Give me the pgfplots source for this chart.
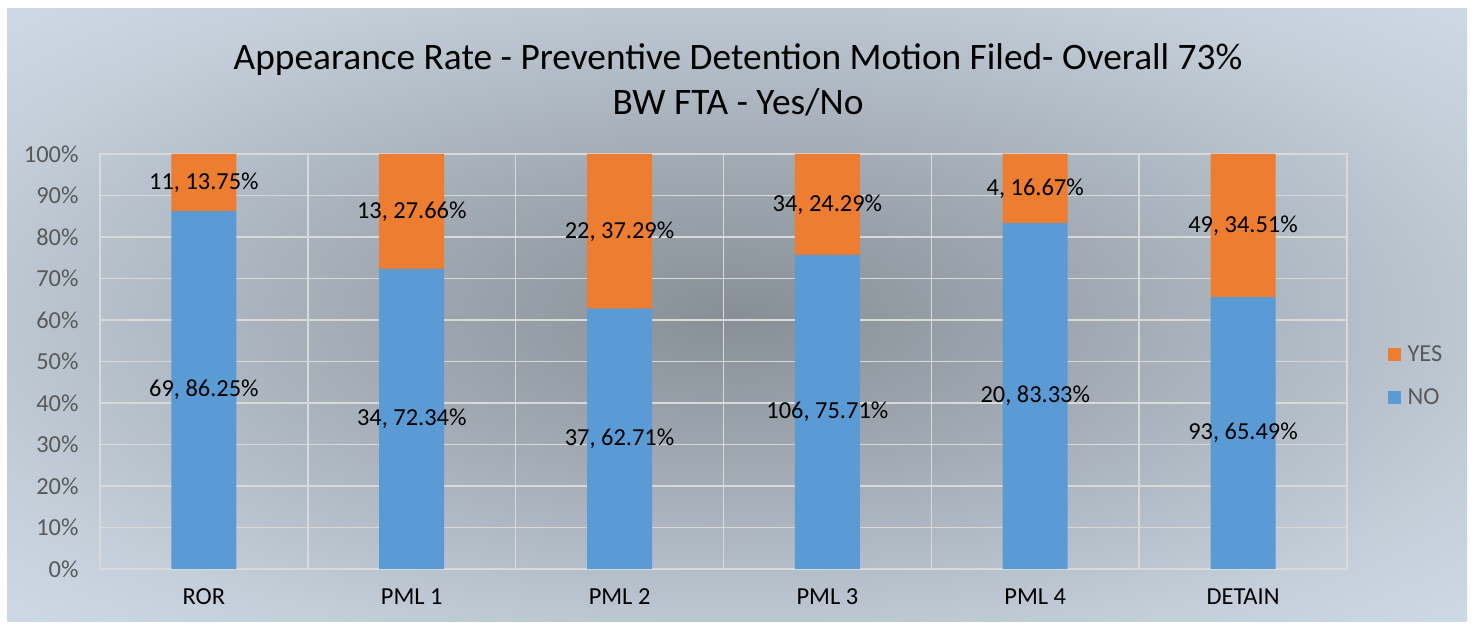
\documentclass[border=0pt]{standalone}
\usepackage{fontspec}
\setmainfont{Carlito}
\usepackage{pgfplots}
\pgfplotsset{compat=1.18}
\definecolor{cNo}{HTML}{5B9BD5}
\definecolor{cYes}{HTML}{ED7D31}
\definecolor{cGrid}{HTML}{D9D9D9}
\definecolor{cTick}{HTML}{595959}
\definecolor{bg0}{HTML}{878E96}
\definecolor{bg1}{HTML}{A0A9B2}
\definecolor{bg2}{HTML}{C3CED9}
\definecolor{bg3}{HTML}{D5E3F0}
\definecolor{bg4}{HTML}{DEEBF8}
\pgfdeclareradialshading{bgshade}{\pgfpoint{0bp}{0bp}}{color(0bp)=(bg0); color(12bp)=(bg1); color(28bp)=(bg2); color(42bp)=(bg3); color(72bp)=(bg4)}
\begin{document}
\begin{tikzpicture}[x=1bp,y=1bp]
\useasboundingbox (0,0) rectangle (1473,625);
\fill[white] (0,0) rectangle (1473,625);
\shade[shading=bgshade] (7,3) rectangle (1467,616);
\node[align=center, font=\fontsize{37.5}{45}\selectfont, text=black] at (738,545) {Appearance Rate - Preventive Detention Motion Filed- Overall 73\%\\BW FTA - Yes/No};
\begin{axis}[
  at={(100bp,56bp)}, anchor=south west,
  scale only axis, width=1247bp, height=415bp,
  ybar stacked, bar width=65bp,
  xmin=-0.5, xmax=5.5, ymin=0, ymax=100,
  xtick={0,1,2,3,4,5},
  xticklabels={ROR,PML 1,PML 2,PML 3,PML 4,DETAIN},
  minor xtick={0.5,1.5,2.5,3.5,4.5},
  ytick={0,10,...,100},
  yticklabel={\pgfmathprintnumber{\tick}\%},
  /pgf/number format/assume math mode=true,
  ymajorgrids, xminorgrids,
  grid style={cGrid, line width=1.5bp},
  minor grid style={cGrid, line width=1.5bp},
  axis line style={cGrid, line width=1.5bp},
  major tick length=0pt, minor tick length=0pt,
  xticklabel style={font=\fontsize{24.5}{28}\selectfont, text=black, yshift=-16bp},
  yticklabel style={font=\fontsize{24.5}{28}\selectfont, text=cTick, xshift=-18bp},
  reverse legend,
  legend style={draw=none, fill=none, at={(1.03,0.465)}, anchor=west,
    font=\fontsize{24.5}{28}\selectfont, text=cTick, row sep=22bp},
  legend cell align=left,
  legend image code/.code={\fill[#1] (0bp,-6.5bp) rectangle (13bp,6.5bp);},
]
\addplot[fill=cNo, draw=none] coordinates {(0,86.25) (1,72.34) (2,62.71) (3,75.71) (4,83.33) (5,65.49)};
\addlegendentry{\hspace{5bp}NO}
\addplot[fill=cYes, draw=none] coordinates {(0,13.75) (1,27.66) (2,37.29) (3,24.29) (4,16.67) (5,34.51)};
\addlegendentry{\hspace{5bp}YES}
\end{axis}
\begin{axis}[
  at={(100bp,56bp)}, anchor=south west,
  scale only axis, width=1247bp, height=415bp,
  xmin=-0.5, xmax=5.5, ymin=0, ymax=100, hide axis,
]
\addplot[draw=none, mark=none, nodes near coords, point meta=explicit symbolic,
  every node near coord/.style={anchor=center, font=\fontsize{24.5}{28}\selectfont, text=black}]
  coordinates {
  (0,43.125) [69, 86.25\%]
  (1,36.17) [34, 72.34\%]
  (2,31.355) [37, 62.71\%]
  (3,37.855) [106, 75.71\%]
  (4,41.665) [20, 83.33\%]
  (5,32.745) [93, 65.49\%]
  (0,93.125) [11, 13.75\%]
  (1,86.17) [13, 27.66\%]
  (2,81.355) [22, 37.29\%]
  (3,87.855) [34, 24.29\%]
  (4,91.665) [4, 16.67\%]
  (5,82.745) [49, 34.51\%]
  };
\end{axis}
\end{tikzpicture}
\end{document}
